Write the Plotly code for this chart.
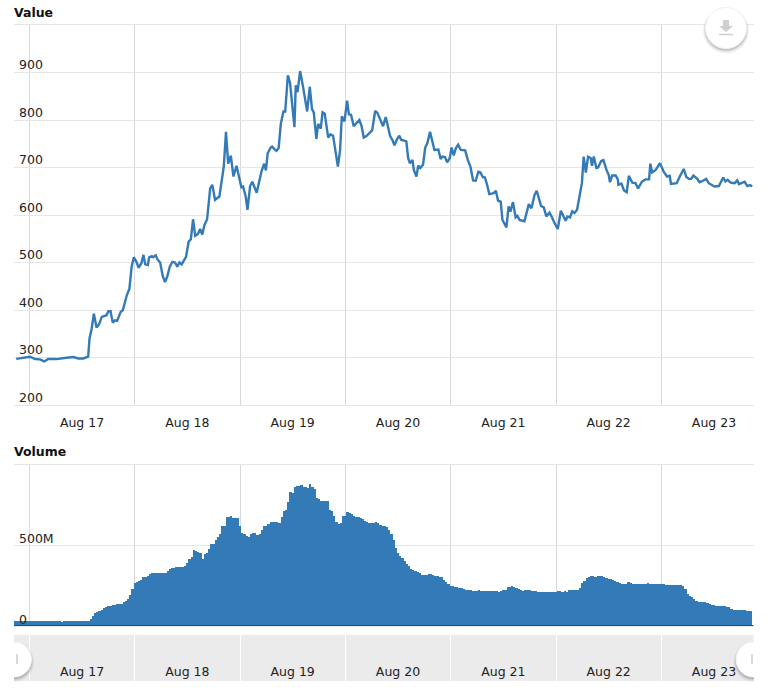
import pandas as pd
import plotly.graph_objects as go

W, H = 768, 696
START = pd.Timestamp("2017-08-17")

value_hours = [-3.0,-1.4,0.15,1.3,2.4,3.4,4.3,6.2,7.4,8.5,10.0,11.2,12.3,13.4,13.7,14.2,14.7,15.3,15.9,16.5,17.6,18.0,18.5,19.0,19.5,20.0,20.8,21.3,22.2,22.8,23.3,23.8,24.4,24.9,25.5,26.0,26.4,27.0,27.3,27.9,28.2,28.8,29.2,29.8,30.4,30.9,31.4,32.0,32.6,33.2,33.7,34.2,34.7,35.2,35.7,36.3,36.8,37.3,37.8,38.4,38.9,39.4,39.9,40.5,41.2,41.7,42.3,43.3,44.3,44.8,45.3,45.9,46.5,47.2,48.3,48.7,49.3,49.7,50.3,50.8,51.8,52.9,53.5,53.9,54.3,55.0,55.3,56.0,56.3,56.8,57.3,57.9,58.3,58.9,59.4,60.4,60.7,61.1,61.7,62.4,63.3,63.9,64.4,64.8,65.4,65.8,66.4,66.8,67.3,68.1,68.6,69.2,69.8,70.3,70.8,71.2,71.8,72.4,72.8,73.3,73.9,74.9,75.2,75.7,76.2,76.8,78.1,78.8,79.3,80.6,
81.2,81.7,82.2,82.7,83.2,83.8,84.3,84.7,85.4,85.9,86.3,86.7,87.3,87.6,88.2,88.6,89.1,89.7,90.2,90.7,91.3,91.9,92.3,93.2,93.7,94.1,94.7,95.2,95.8,96.2,96.7,97.2,97.7,98.3,99.3,99.9,100.5,101.1,101.7,102.3,102.8,103.3,103.8,104.3,104.8,105.8,106.3,106.8,107.4,107.8,108.3,108.7,109.2,109.6,110.2,110.8,111.2,111.7,112.8,113.8,114.4,115.1,115.6,116.6,117.2,117.8,118.5,119.0,119.7,120.4,121.1,121.7,122.2,122.6,123.2,123.7,124.2,124.8,125.4,125.9,126.3,126.8,127.3,127.9,128.2,128.6,129.2,129.6,130.3,130.8,131.5,132.0,132.3,132.8,133.6,134.1,134.2,134.9,135.5,136.1,136.6,137.4,138.1,138.7,139.6,140.4,141.2,141.5,141.9,142.7,143.7,144.6,145.3,145.9,146.2,147.5,148.2,149.1,149.7,150.3,150.8,151.3,152.2,152.7,153.5,154.2,154.8,156.1,157.1,158.1,158.6,159.1,159.8,160.7,161.3,161.7,163.0,163.6,164.2,164.7]

value_series = [297,299,301.6,296.7,296,291.7,296.7,296.7,299,299.5,301,298,298,301.6,339.6,361,392.4,363,370,385.4,389,397.3,397.3,373.4,378.3,377,396,399.5,431,445,491,511,501.5,489,498,516,496,494.5,511,513.5,511,515,506.5,500,471,459,470,491,501.5,500,491,500,496,504,512,544,549,591,556,560,570.5,559,579,591,656,663.5,632,639,702,775,708,725,681,703.6,658.5,660,639,611,661,670,647,692,708,694,730,742,744,737,735,741,792,818,818,894,878,785,873,858.5,903,867.6,818,870,823,816,760,792,782,816,813,763,770,767,730,702,737,808,797,841,812,811,787,799,800,787,763,766,778,819,815,787,
806,787,766,758.5,746.5,760.6,767,758.5,756,755,720,709,716,695,681,704,699,706,742,751.5,775,751.5,737,738,718,723,722,711,720,742,725.4,741,748,737,736,716,702,672.6,672,691,689.5,680,679,663.5,644,646,651,630,628,589.5,579,574,618,607,627,595,598,589.5,587,623,614,642,651,619,616,597,605,597,582.5,570.5,609,597,588,597,595,608,604,611,639,667,723,689.5,722.6,720,703.6,723,699,700,714,715.6,695,684.6,669,683,683,675,663.5,666,651.5,648,682.5,668,667,656,670.5,675,675,708,689.5,695,709,690,681,682.5,665.6,667,681,697,680,676,676,683,676,669,672,676,667,660,661,679,670.5,674,668,667,673,665,670,661,663,660]

# Half-hourly volume, in millions
volume_millions = [33,33,33,34,33,33,33,32,33,33,33,33,33,33,33,33,33,33,33,33,33,33,26,33,33,33,33,33,33,33,33,33,33,33,34,
46,62,81,90,96,102,110,117,123,127,129,133,135,135,137,148,156,165,192,229,265,273,281,287,302,306,312,323,327,329,331,331,329,327,331,342,352,358,360,365,365,367,369,373,390,419,431,473,467,460,452,415,448,456,477,508,510,535,552,573,623,623,675,677,685,669,673,671,623,579,571,562,552,569,579,577,567,571,594,619,623,635,644,646,646,644,640,677,715,723,773,833,827,862,869,867,873,865,862,856,879,865,848,792,790,777,779,779,777,723,712,681,646,631,642,685,685,708,702,694,685,677,675,673,667,652,646,640,637,637,644,640,625,621,621,
615,598,571,535,483,452,437,421,404,387,371,356,348,340,333,329,317,317,319,323,325,319,312,308,304,302,285,275,258,250,246,244,242,237,237,229,225,223,221,217,217,219,223,219,217,217,217,217,217,217,217,212,215,223,223,240,242,246,242,235,231,225,217,221,223,223,217,217,215,210,210,210,210,210,210,210,210,210,217,215,212,215,212,221,225,223,225,225,235,269,279,296,304,308,310,306,308,310,310,304,300,294,290,283,277,271,265,262,260,262,273,267,262,262,262,260,260,260,258,267,260,260,260,260,260,260,260,256,252,252,252,252,252,252,254,246,229,198,188,179,169,158,152,150,148,146,142,137,133,131,127,125,125,123,123,119,115,106,102,102,102,102,100,98,96,96,96]

y_value_ticks = [200,300,400,500,600,700,800,900,1000]
y_value_text = ["200","300","400","500","600","700","800","900",""]
y_volume_ticks = [0,500e6,1000e6]
y_volume_text = ["0","500M",""]

BLUE = "#337ab7"
GRID = "#e6e6e6"
VGRID = "#d8d8d8"
FONT = "DejaVu Sans"
TEXT = "#222222"
FSIZE = 12.5

def when(h):
    return START + pd.Timedelta(hours=h)

value_x = [when(h) for h in value_hours]
volume_x = [when(-3.5 + 0.5 * i) for i in range(len(volume_millions))]
volume_y = [v * 1e6 for v in volume_millions]
x_range = [when(-3.5), when(165.0)]

def px_x(p): return p / W
def px_y(p): return 1 - p / H

fig = go.Figure()
fig.add_trace(go.Scatter(x=value_x, y=value_series, mode="lines",
                         line=dict(color=BLUE, width=2.4), xaxis="x", yaxis="y", showlegend=False))
fig.add_trace(go.Bar(x=volume_x, y=volume_y, marker=dict(color=BLUE, line=dict(width=0)),
                     width=1800000, xaxis="x2", yaxis="y2", showlegend=False))

x_common = dict(range=x_range, type="date", dtick=86400000, tick0=START,
                domain=[px_x(14), px_x(753.5)], showgrid=True, gridcolor=VGRID, gridwidth=1,
                zeroline=False, tickformat="%b %d", ticklabelmode="period", ticks="",
                tickfont=dict(family=FONT, size=FSIZE, color=TEXT))
y_common = dict(showgrid=True, gridcolor=GRID, gridwidth=1, zeroline=False, ticks="",
                showticklabels=False, showline=False)
frame = dict(showline=True, linecolor=GRID, linewidth=1, mirror=True)

shapes = [
    # navigator band
    dict(type="rect", xref="paper", yref="paper", x0=px_x(14), x1=px_x(753.5), y0=px_y(681), y1=px_y(635),
         fillcolor="#ebebeb", line=dict(width=0), layer="below"),
    # baseline of the volume panel
    dict(type="line", xref="paper", yref="paper", x0=px_x(14), x1=px_x(753.5), y0=px_y(625.5), y1=px_y(625.5),
         line=dict(color="#1f5080", width=1), layer="above"),
]

def round_button(cx, cy, r):
    out = []
    for grow, drop, alpha in [(2.5, 2.5, 0.05), (1.5, 2, 0.08), (0.5, 1.5, 0.12)]:
        out.append(dict(type="circle", xref="paper", yref="paper",
                        x0=px_x(cx - r - grow), x1=px_x(cx + r + grow),
                        y0=px_y(cy + r + grow + drop), y1=px_y(cy - r - grow + drop),
                        fillcolor=f"rgba(0,0,0,{alpha})", line=dict(width=0), layer="above"))
    out.append(dict(type="circle", xref="paper", yref="paper",
                    x0=px_x(cx - r), x1=px_x(cx + r), y0=px_y(cy + r), y1=px_y(cy - r),
                    fillcolor="white", line=dict(color="#f2f2f2", width=1), layer="above"))
    return out

# download button
shapes += round_button(726, 28, 20.5)
shapes.append(dict(type="path", xref="paper", yref="paper", layer="above", fillcolor="#cfcfcf", line=dict(width=0),
                   path=" ".join([f"{c} {px_x(a)},{px_y(b)}" for c, a, b in
                                  [("M",723,20),("L",729,20),("L",729,26),("L",733,26),("L",726,32),
                                   ("L",719,26),("L",723,26)]]) + " Z"))
shapes.append(dict(type="line", xref="paper", yref="paper", x0=px_x(719), x1=px_x(733), y0=px_y(34.5), y1=px_y(34.5),
                   line=dict(color="#cfcfcf", width=1.5), layer="above"))
# navigator handles
shapes += round_button(14, 659.5, 17.5)
shapes += round_button(753.5, 659.5, 17.5)
# clip the handles at the edges of the plot
shapes.append(dict(type="rect", xref="paper", yref="paper", x0=0, x1=px_x(14), y0=px_y(690), y1=px_y(630),
                   fillcolor="white", line=dict(width=0), layer="above"))
shapes.append(dict(type="rect", xref="paper", yref="paper", x0=px_x(754), x1=1, y0=px_y(690), y1=px_y(630),
                   fillcolor="white", line=dict(width=0), layer="above"))
for mx in (17, 752):
    shapes.append(dict(type="line", xref="paper", yref="paper", x0=px_x(mx), x1=px_x(mx), y0=px_y(664), y1=px_y(654),
                       line=dict(color="#cccccc", width=1.5), layer="above"))

annotations = [
    dict(text="<b>Value</b>", xref="paper", yref="paper", x=px_x(14), y=px_y(12), xanchor="left", yanchor="middle",
         xshift=-2, showarrow=False, font=dict(family=FONT, size=FSIZE, color="#111111")),
    dict(text="<b>Volume</b>", xref="paper", yref="paper", x=px_x(14), y=px_y(451), xanchor="left", yanchor="middle",
         xshift=-2, showarrow=False, font=dict(family=FONT, size=FSIZE, color="#111111")),
]
# y tick labels sit left-aligned above their grid lines, inside the plot
for axis, ticks, texts, lift in (("y", y_value_ticks, y_value_text, 8), ("y2", y_volume_ticks, y_volume_text, 7)):
    for tick, label in zip(ticks, texts):
        if label:
            annotations.append(dict(text=label, xref="paper", yref=axis, x=px_x(17), y=tick,
                                    xanchor="left", yanchor="middle", yshift=lift, showarrow=False,
                                    font=dict(family=FONT, size=FSIZE, color=TEXT)))

fig.update_layout(
    width=W, height=H, margin=dict(l=0, r=0, t=0, b=0),
    paper_bgcolor="white", plot_bgcolor="rgba(0,0,0,0)", bargap=0, showlegend=False,
    xaxis=dict(anchor="y", ticklabelstandoff=6, **frame, **x_common),
    xaxis2=dict(anchor="y2", showticklabels=False, **frame, **x_common),
    xaxis3=dict(anchor="y3", ticklabelposition="inside", **{**x_common, "gridcolor": "#ffffff"}),
    yaxis=dict(domain=[px_y(405), px_y(25)], range=[200, 1000], tickvals=y_value_ticks, **y_common),
    yaxis2=dict(domain=[px_y(626), px_y(465)], range=[0, 1000e6], tickvals=y_volume_ticks, **y_common),
    yaxis3=dict(domain=[px_y(681), px_y(635)], range=[0, 1], showticklabels=False, showgrid=False, zeroline=False),
    shapes=shapes, annotations=annotations,
)
# empty trace so that the navigator axis is drawn
fig.add_trace(go.Scatter(x=[value_x[0]], y=[None], xaxis="x3", yaxis="y3", showlegend=False, hoverinfo="skip"))

fig.write_html("out.html", config=dict(displayModeBar=False),
               post_script="document.body.style.margin='0';document.body.style.overflow='hidden';")
